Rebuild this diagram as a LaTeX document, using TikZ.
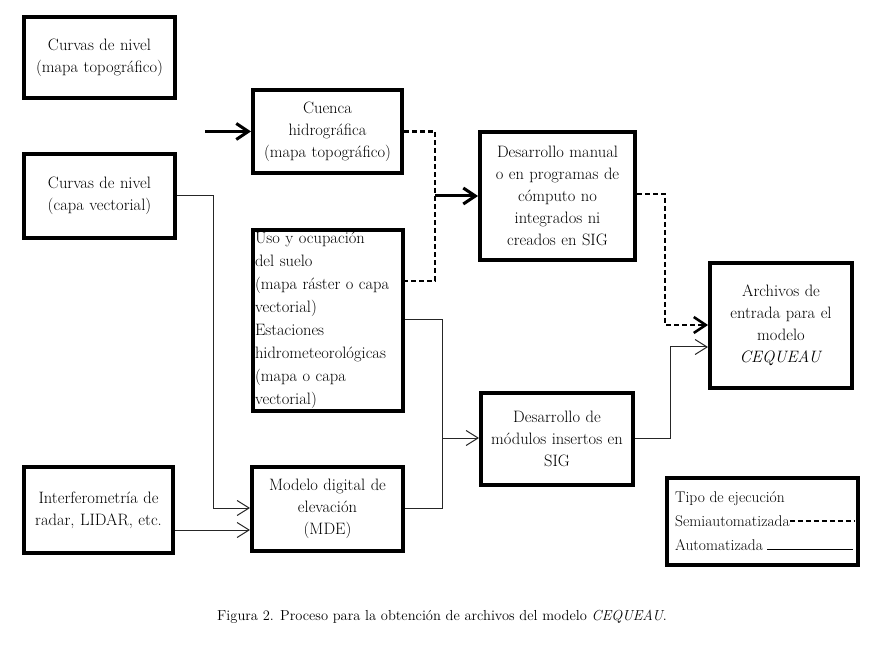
\documentclass[tikz,border=0pt]{standalone}
\usetikzlibrary{arrows.meta}
\begin{document}
\begin{tikzpicture}[x=1pt,y=-1pt,
  box/.style={draw, line width=4pt, inner sep=0pt, align=center,
    font=\fontsize{16.5}{22}\selectfont},
  thin/.style={draw, line width=1pt, black!85},
  thinarr/.style={thin, -{Straight Barb[length=12pt,width=15pt,line width=1pt]}},
  thickarr/.style={draw, line width=3pt, -{Straight Barb[length=12pt,width=16pt,line width=3pt]}},
  semi/.style={draw, line width=2.5pt, dash pattern=on 5pt off 3pt},
  semiarr/.style={semi, -{Straight Barb[length=12pt,width=16pt,line width=2.5pt]}},
  legtxt/.style={anchor=base west, inner sep=0pt, font=\fontsize{15.5}{22}\selectfont}
]
\useasboundingbox (0,0) rectangle (879,647);

\node[box, text width=151pt, minimum height=81pt] (A) at (99.5,57.5) {Curvas de nivel\\(mapa topográfico)};
\node[box, text width=151pt, minimum height=84pt] (B) at (99.5,196) {Curvas de nivel\\(capa vectorial)};
\node[box, text width=149pt, minimum height=86pt] (C) at (98.5,510) {Interferometría de\\radar, LIDAR, etc.};
\node[box, text width=149pt, minimum height=83pt] (D) at (327.5,131.5) {Cuenca\\hidrográfica\\(mapa topográfico)};
\node[box, text width=146pt, inner xsep=2pt, minimum height=181pt, align=left,
  font=\fontsize{16.5}{23}\selectfont] (E) at (328,320.5)
  {Uso y ocupación\\del suelo\\(mapa ráster o capa\\vectorial)\\Estaciones\\hidrometeorológicas\\(mapa o capa\\vectorial)};
\node[box, text width=151pt, minimum height=84pt] (F) at (327.5,509) {Modelo digital de\\elevación\\(MDE)};
\node[box, text width=155pt, minimum height=128pt] (G) at (557.5,196) {Desarrollo manual\\o en programas de\\cómputo no\\integrados ni\\creados en SIG};
\node[box, text width=142pt, minimum height=125pt] (H) at (781,325.5) {Archivos de\\entrada para el\\modelo\\\textit{CEQUEAU}};
\node[box, text width=152pt, minimum height=92pt] (I) at (557,439) {Desarrollo de\\módulos insertos en\\SIG};
\node[draw, line width=3.5pt, minimum width=191pt, minimum height=87pt, inner sep=0pt] (L) at (762.5,521.5) {};

% legend
\node[legtxt] (l1) at (675,502) {Tipo de ejecución};
\node[legtxt] (l2) at (675,526) {Semiautomatizada};
\node[legtxt] (l3) at (675,550) {Automatizada};
\coordinate (l2e) at (855,521);
\coordinate (l3e) at (853,549);
\draw[line width=2pt, dash pattern=on 5pt off 3pt] (l2.east |- l2e) -- (l2e);
\draw[line width=1pt] ([xshift=4pt]l3.east |- l3e) -- (l3e);

% junction coordinates
\coordinate (c0) at (205,131.5);
\coordinate (j1) at (435,196);
\coordinate (j2) at (665,194);
\coordinate (j3) at (670,438);
\coordinate (j4) at (442,438);
\coordinate (j5) at (213,508);

% connectors
\draw[thickarr] (c0) -- (D.west);
\draw[semi] (D.east) -- (j1 |- D.east) -- (j1 |- 0,281) -- (E.east |- 0,281);
\draw[thickarr] (j1) -- (G.west |- j1);
\draw[semiarr] (G.east |- j2) -- (j2) -- (j2 |- 0,325) -- (H.west |- 0,325);
\draw[thinarr] (I.east |- j3) -- (j3) -- (j3 |- 0,347) -- (H.west |- 0,347);
\draw[thin] (E.east |- 0,320) -- (j4 |- 0,320) -- (j4);
\draw[thinarr] (j4) -- (I.west |- j4);
\draw[thin] (F.east |- 0,508) -- (j4 |- 0,508) -- (j4);
\draw[thinarr] (B.east) -- (j5 |- B.east) -- (j5) -- (F.west |- j5);
\draw[thinarr] (C.east |- 0,530) -- (F.west |- 0,530);

% caption
\node[font=\fontsize{14.5}{17}\selectfont, inner sep=0pt] (cap) at (442,617)
  {Figura 2. Proceso para la obtención de archivos del modelo \textit{CEQUEAU}.};
\end{tikzpicture}
\end{document}
